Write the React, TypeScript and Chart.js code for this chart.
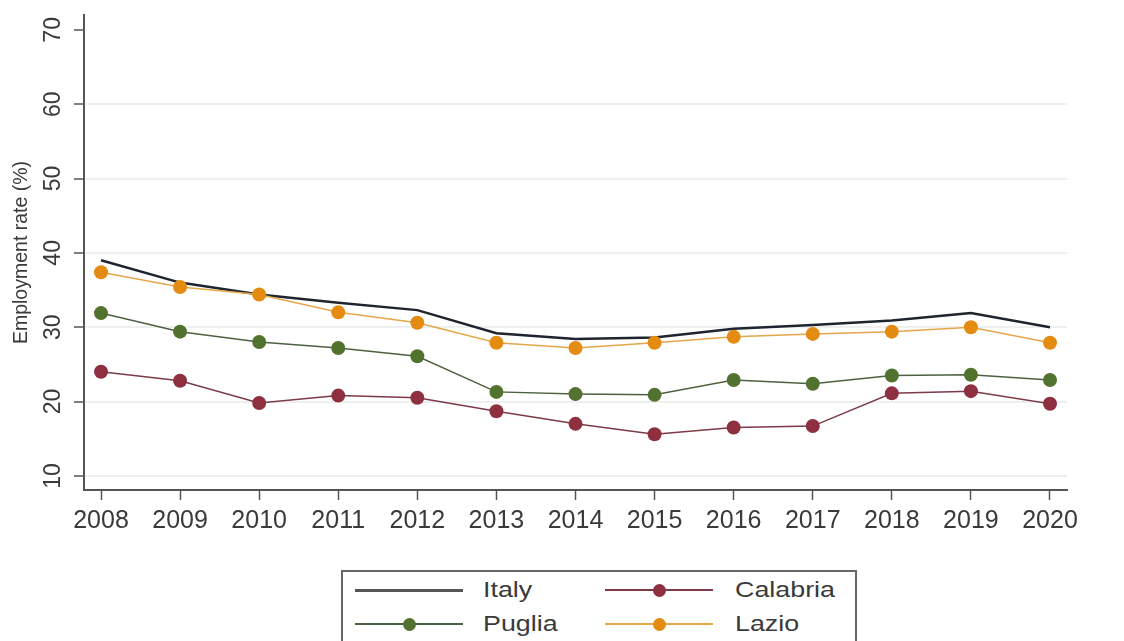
import { useEffect, useRef } from "react";
import { Chart, registerables } from "chart.js";

Chart.register(...registerables);

const years = [2008, 2009, 2010, 2011, 2012, 2013, 2014, 2015, 2016, 2017, 2018, 2019, 2020];
const italy = [39.0, 36.0, 34.4, 33.3, 32.3, 29.2, 28.4, 28.6, 29.8, 30.3, 30.9, 31.9, 30.0];
const puglia = [31.9, 29.4, 28.0, 27.2, 26.1, 21.3, 21.0, 20.9, 22.9, 22.4, 23.5, 23.6, 22.9];
const calabria = [24.0, 22.8, 19.8, 20.8, 20.5, 18.7, 17.0, 15.6, 16.5, 16.7, 21.1, 21.4, 19.7];
const lazio = [37.4, 35.4, 34.4, 32.0, 30.6, 27.9, 27.2, 27.9, 28.7, 29.1, 29.4, 30.0, 27.9];
const yTicks = [10, 20, 30, 40, 50, 60, 70];

const seriesNames = ["Italy", "Puglia", "Calabria", "Lazio"];
const lineColors = ["#1f2530", "#4d6140", "#7d3a48", "#e6a64a"];
const markerColors = ["#1f2530", "#52732f", "#8e3040", "#e48c12"];
const lineWidths = [2.5, 1.5, 1.5, 1.5];
const markerRadii = [0, 7, 7, 7];
// legend order: row 1 Italy, Calabria; row 2 Puglia, Lazio
const legendOrder = [0, 2, 1, 3];

const FONT = "'Liberation Sans', Arial, Helvetica, sans-serif";

export default function App() {
  const canvasRef = useRef<HTMLCanvasElement | null>(null);

  useEffect(() => {
    const canvas = canvasRef.current;
    if (!canvas) return;
    const values = [italy, puglia, calabria, lazio];
    const datasets = values.map((vals, i) => ({
      label: seriesNames[i],
      data: years.map((yr, j) => ({ x: yr, y: vals[j] })),
      borderColor: lineColors[i],
      backgroundColor: markerColors[i],
      pointBackgroundColor: markerColors[i],
      pointBorderColor: markerColors[i],
      pointBorderWidth: 0,
      pointRadius: markerRadii[i],
      borderWidth: lineWidths[i],
      tension: 0,
      fill: false,
      order: [3, 2, 1, 0][i],
    }));

    const chart = new Chart(canvas, {
      type: "line",
      data: { datasets },
      options: {
        animation: false,
        responsive: false,
        devicePixelRatio: 1,
        layout: { padding: { top: 7, right: 49, left: 0, bottom: 0 } },
        plugins: { legend: { display: false }, tooltip: { enabled: false } },
        scales: {
          x: {
            type: "linear",
            min: 2007.785,
            max: 2020.215,
            afterBuildTicks: (s: any) => {
              s.ticks = years.map((v) => ({ value: v }));
            },
            afterFit: (s: any) => {
              s.height = 78;
              s.paddingLeft = 0;
              s.paddingRight = 0;
            },
            ticks: {
              callback: (v: any) => String(v),
              font: { size: 25, family: FONT },
              color: "#3a3a3a",
              padding: 6,
              maxRotation: 0,
              minRotation: 0,
              autoSkip: false,
            },
            grid: {
              drawOnChartArea: false,
              drawTicks: true,
              tickLength: 10,
              tickColor: "#555",
              tickWidth: 1.5,
            },
            border: { color: "#555", width: 2 },
          },
          y: {
            type: "linear",
            min: 8.1,
            max: 72,
            afterBuildTicks: (s: any) => {
              s.ticks = yTicks.map((v) => ({ value: v }));
            },
            afterFit: (s: any) => {
              s.width = 76;
              s.paddingTop = 0;
              s.paddingBottom = 0;
            },
            ticks: {
              font: { size: 23, family: FONT },
              color: "#3a3a3a",
              minRotation: 90,
              maxRotation: 90,
              crossAlign: "center",
              padding: 8,
            },
            grid: {
              color: (ctx: any) =>
                ctx.tick && ctx.tick.value === 70 ? "rgba(0,0,0,0)" : "#eef0f0",
              lineWidth: 2,
              drawTicks: true,
              tickLength: 10,
              tickColor: "#555",
              tickWidth: 1.5,
            },
            border: { color: "#555", width: 2 },
            title: {
              display: true,
              text: "Employment rate (%)",
              font: { size: 19.5, family: FONT },
              color: "#3a3a3a",
              padding: { top: 2, bottom: 0 },
            },
          },
        },
      },
    } as any);
    return () => chart.destroy();
  }, []);

  const colLineLeft = [12, 262];
  const colTextLeft = [140, 392];
  const rowTop = [20, 54];

  return (
    <div style={{ position: "relative", width: 1108, height: 560 }}>
      <canvas ref={canvasRef} width={1108} height={560} style={{ display: "block" }} />
      <div
        style={{
          position: "fixed",
          left: 341,
          top: 570,
          width: 516,
          height: 90,
          border: "2px solid #666",
          boxSizing: "border-box",
          background: "#fff",
          fontFamily: FONT,
        }}
      >
        {legendOrder.map((si, k) => {
          const col = k % 2;
          const row = Math.floor(k / 2);
          const cy = rowTop[row];
          return (
            <div key={seriesNames[si]}>
              <div
                style={{
                  position: "absolute",
                  left: colLineLeft[col],
                  top: cy - (si === 0 ? 1.5 : 1) - 2,
                  width: 108,
                  height: si === 0 ? 3 : 2,
                  background: si === 0 ? "#555" : lineColors[si],
                }}
              />
              {markerRadii[si] > 0 && (
                <div
                  style={{
                    position: "absolute",
                    left: colLineLeft[col] + 54 - 6.5,
                    top: cy - 6.5 - 2,
                    width: 13,
                    height: 13,
                    borderRadius: "50%",
                    background: markerColors[si],
                  }}
                />
              )}
              <div
                style={{
                  position: "absolute",
                  left: colTextLeft[col],
                  top: cy - 15 - 2,
                  height: 30,
                  lineHeight: "30px",
                  fontSize: 22,
                  color: "#3a3a3a",
                  whiteSpace: "nowrap",
                  transform: "scaleX(1.22)",
                  transformOrigin: "left center",
                }}
              >
                {seriesNames[si]}
              </div>
            </div>
          );
        })}
      </div>
    </div>
  );
}
